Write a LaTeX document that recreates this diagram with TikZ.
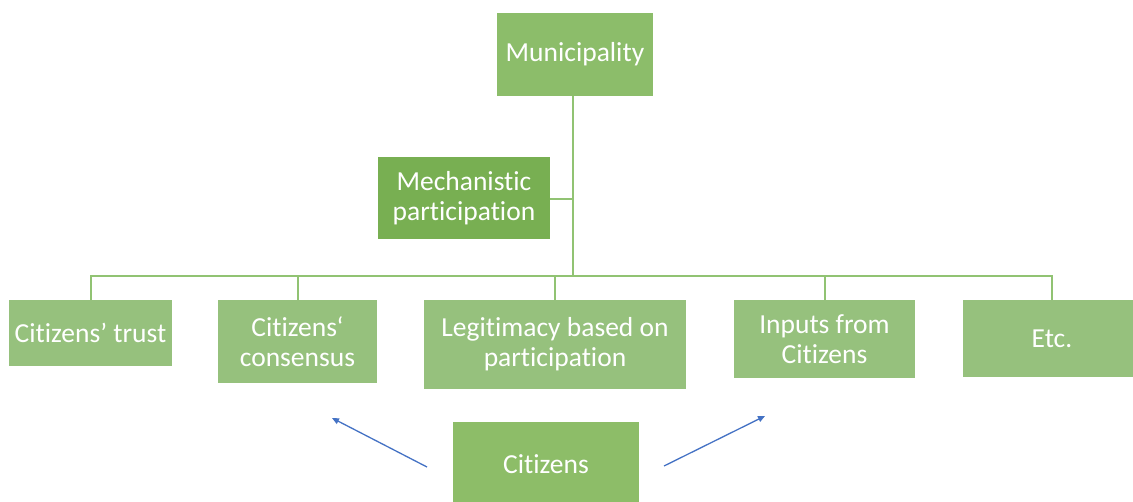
\documentclass[tikz,border=0pt]{standalone}
\usepackage{fontspec}
\setmainfont{Carlito}[Ligatures={NoCommon}]
\usetikzlibrary{arrows.meta}
\definecolor{muniC}{RGB}{140,189,106}
\definecolor{mechC}{RGB}{120,175,82}
\definecolor{leafC}{RGB}{150,193,125}
\definecolor{citC}{RGB}{141,189,104}
\definecolor{lineC}{RGB}{145,195,115}
\definecolor{arrC}{RGB}{68,114,196}
\tikzset{
  box/.style={rectangle, inner sep=0pt, align=center, text=white,
    font=\fontsize{27.5}{30}\selectfont},
  conn/.style={draw=lineC, line width=2pt},
  bluearrow/.style={draw=arrC, line width=1.3pt, -{Triangle[length=7pt,width=6pt]}}
}
\begin{document}
\begin{tikzpicture}[x=1pt,y=-1pt]
\useasboundingbox (0,0) rectangle (1133,501);
\node[box, fill=muniC, minimum width=156pt, minimum height=83pt] (muni) at (575,54.5) {Municipality};
\node[box, fill=mechC, minimum width=172pt, minimum height=82pt] (mech) at (464,198) {Mechanistic\\participation};
\node[box, fill=leafC, minimum width=163pt, minimum height=66pt] (trust) at (90.5,333) {Citizens’ trust};
\node[box, fill=leafC, minimum width=159pt, minimum height=83pt] (cons) at (297.5,341.5) {Citizens‘\\consensus};
\node[box, fill=leafC, minimum width=262pt, minimum height=89pt] (legit) at (555,344.5) {Legitimacy based on\\participation};
\node[box, fill=leafC, minimum width=181pt, minimum height=78pt] (inputs) at (824.5,339) {Inputs from\\Citizens};
\node[box, fill=leafC, minimum width=178pt, minimum height=77pt] (etc) at (1052,338.5) {Etc.};
\node[box, fill=citC, minimum width=186pt, minimum height=84pt] (cit) at (546,464) {Citizens};
\coordinate (hub) at (573,276);
\coordinate (mj) at (573,199);
\draw[conn] (muni.south -| hub) -- (hub);
\draw[conn] (mech.east |- mj) -- (mj);
\draw[conn] (trust.north) -- (trust.north |- hub) -- (etc.north |- hub) -- (etc.north);
\draw[conn] (cons.north) -- (cons.north |- hub);
\draw[conn] (legit.north) -- (legit.north |- hub);
\draw[conn] (inputs.north) -- (inputs.north |- hub);
\coordinate (la) at (427,467);
\coordinate (lb) at (332,418);
\coordinate (ra) at (664,466);
\coordinate (rb) at (765,416);
\draw[bluearrow] (la) -- (lb);
\draw[bluearrow] (ra) -- (rb);
\end{tikzpicture}
\end{document}
